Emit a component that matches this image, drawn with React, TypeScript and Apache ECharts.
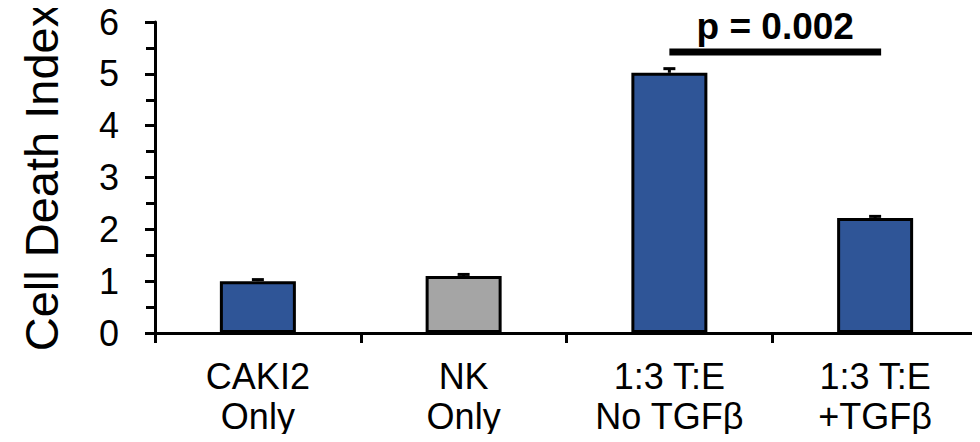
import React, { useEffect, useRef } from "react";
import * as echarts from "echarts";

const categories = ["CAKI2\nOnly", "NK\nOnly", "1:3 T:E\nNo TGFβ", "1:3 T:E\n+TGFβ"];
const values = [1.0, 1.1, 5.02, 2.22];
const errors = [0.03, 0.03, 0.08, 0.03];
const barColors = ["#2F5597", "#A5A5A5", "#2F5597", "#2F5597"];
const yTicks = { min: 0, max: 6, interval: 1 };
const significance = [{ from: 2, to: 3, y: 5.42, label: "p = 0.002" }];

const FONT = "'Liberation Sans', Arial, sans-serif";

export default function App() {
  const ref = useRef<HTMLDivElement>(null);
  useEffect(() => {
    if (!ref.current) return;
    const chart = echarts.init(ref.current, null, { renderer: "svg" });
    chart.setOption({
      animation: false,
      grid: { left: 155, right: 2, top: 22, bottom: 109, containLabel: false },
      xAxis: {
        type: "category",
        data: categories,
        boundaryGap: true,
        axisLine: { show: true, lineStyle: { color: "#000", width: 3 } },
        axisTick: { show: true, length: 10, lineStyle: { color: "#000", width: 3 }, alignWithLabel: false },
        axisLabel: {
          color: "#000",
          fontSize: 36,
          lineHeight: 40,
          fontFamily: FONT,
          margin: 23,
          interval: 0,
        },
      },
      yAxis: {
        type: "value",
        min: yTicks.min,
        max: yTicks.max,
        interval: yTicks.interval,
        name: "Cell Death Index",
        nameLocation: "middle",
        nameRotate: 90,
        nameGap: 90,
        nameTextStyle: { color: "#000", fontSize: 47, fontFamily: FONT },
        axisLine: { show: true, lineStyle: { color: "#000", width: 3 } },
        axisTick: { show: true, length: 10, lineStyle: { color: "#000", width: 3 } },
        minorTick: { show: true, splitNumber: 2, length: 9, lineStyle: { color: "#000", width: 3 } },
        splitLine: { show: false },
        axisLabel: { color: "#000", fontSize: 36, fontFamily: FONT, margin: 36 },
      },
      series: [
        {
          type: "bar",
          data: values.map((v, i) => ({
            value: v,
            itemStyle: { color: barColors[i], borderColor: "#000", borderWidth: 3 },
          })),
          barWidth: 76,
          z: 2,
        },
        {
          type: "custom",
          data: values.map((v, i) => [i, v, errors[i]]),
          z: 3,
          renderItem: (params: any, api: any) => {
            const x = api.value(0);
            const v = api.value(1);
            const e = api.value(2);
            const p0 = api.coord([x, v]);
            const p1 = api.coord([x, v + e]);
            const hw = 6;
            return {
              type: "group",
              children: [
                { type: "line", shape: { x1: p0[0], y1: p0[1], x2: p1[0], y2: p1[1] }, style: { stroke: "#000", lineWidth: 3 } },
                { type: "line", shape: { x1: p1[0] - hw, y1: p1[1], x2: p1[0] + hw, y2: p1[1] }, style: { stroke: "#000", lineWidth: 3 } },
              ],
            };
          },
        },
        {
          type: "custom",
          data: significance.map((s) => [s.from, s.to, s.y]),
          z: 4,
          renderItem: (params: any, api: any) => {
            const a = api.coord([api.value(0), api.value(2)]);
            const b = api.coord([api.value(1), api.value(2)]);
            const lbl = significance[params.dataIndex].label;
            return {
              type: "group",
              children: [
                { type: "line", shape: { x1: a[0], y1: a[1], x2: b[0] + 6, y2: b[1] }, style: { stroke: "#000", lineWidth: 7 } },
                {
                  type: "text",
                  x: (a[0] + b[0]) / 2 + 3,
                  y: a[1] - 7,
                  style: {
                    text: lbl,
                    fill: "#000",
                    font: `bold 37px ${FONT}`,
                    align: "center",
                    verticalAlign: "bottom",
                  },
                },
              ],
            };
          },
        },
      ],
    });
    return () => chart.dispose();
  }, []);
  return <div ref={ref} style={{ width: 980, height: 442, margin: -8 }} />;
}
